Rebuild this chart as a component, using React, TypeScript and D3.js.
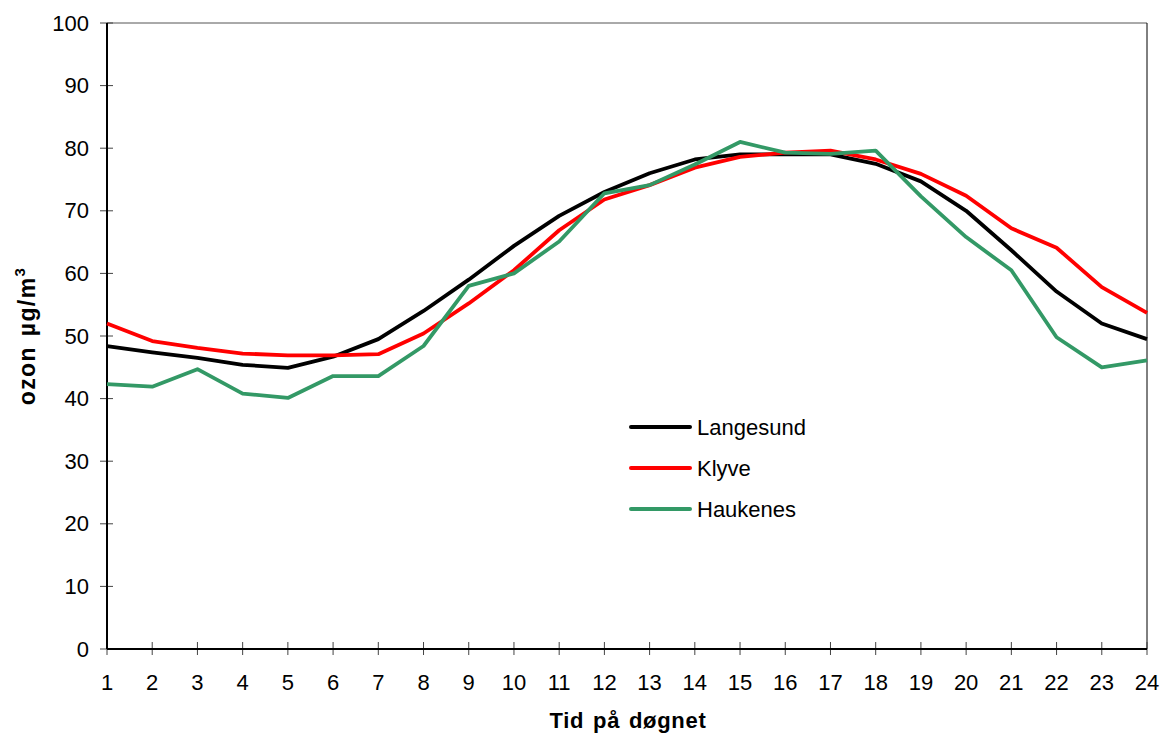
import React from "react";
import * as d3 from "d3";

const hours = [1,2,3,4,5,6,7,8,9,10,11,12,13,14,15,16,17,18,19,20,21,22,23,24];
const langesund = [48.4,47.4,46.5,45.4,44.9,46.7,49.5,54.0,59.0,64.4,69.2,73.0,76.0,78.2,79.0,79.0,79.0,77.5,74.7,70.0,63.7,57.1,52.0,49.5];
const klyve = [52.0,49.2,48.1,47.2,46.9,46.9,47.1,50.4,55.2,60.5,66.9,71.8,74.1,76.9,78.6,79.3,79.6,78.2,75.9,72.4,67.2,64.1,57.8,53.7];
const haukenes = [42.3,41.9,44.7,40.8,40.1,43.6,43.6,48.4,58.0,60.0,65.1,72.8,74.1,77.4,81.0,79.3,79.1,79.6,72.3,65.8,60.5,49.8,45.0,46.1];
const yTicks = [0,10,20,30,40,50,60,70,80,90,100];

const seriesList = [
  { name: "Langesund", values: langesund, color: "#000000" },
  { name: "Klyve", values: klyve, color: "#ff0000" },
  { name: "Haukenes", values: haukenes, color: "#339966" },
];

export default function App() {
  const W = 1165, H = 736;
  const left = 107, right = 1147, top = 23, bottom = 649;
  const x = d3.scaleLinear().domain([1, 24]).range([left, right]);
  const y = d3.scaleLinear().domain([0, 100]).range([bottom, top]);
  const line = d3.line<number>().x((_, i) => x(hours[i])).y((d) => y(d));
  const font = "Arial, 'Liberation Sans', sans-serif";
  return (
    <svg width={W} height={H} style={{ position: "absolute", left: 0, top: 0, background: "#fff" }}>
      <rect x={0} y={0} width={W} height={H} fill="#fff" />
      {/* frame */}
      <line x1={left} x2={right} y1={top} y2={top} stroke="#555" strokeWidth={1} />
      <line x1={right} x2={right} y1={top} y2={bottom} stroke="#000" strokeWidth={1} />
      {/* y ticks */}
      {yTicks.map((t) => (
        <g key={"y" + t}>
          <line x1={left - 7} x2={left + 6} y1={y(t)} y2={y(t)} stroke="#444" strokeWidth={1} />
          <text x={89} y={y(t) + 7.5} textAnchor="end" fontFamily={font} fontSize={22} fill="#000">{t}</text>
        </g>
      ))}
      {/* x ticks */}
      {hours.map((h) => (
        <g key={"x" + h}>
          <line x1={x(h)} x2={x(h)} y1={bottom - 7} y2={bottom + 6} stroke="#444" strokeWidth={1} />
          <text x={x(h)} y={690} textAnchor="middle" fontFamily={font} fontSize={22} fill="#000">{h}</text>
        </g>
      ))}
      {/* axes */}
      <line x1={left} x2={left} y1={top} y2={bottom} stroke="#000" strokeWidth={2} />
      <line x1={left} x2={right} y1={bottom} y2={bottom} stroke="#000" strokeWidth={2} />
      {/* series */}
      {seriesList.map((s) => (
        <path key={s.name} d={line(s.values) || ""} fill="none" stroke={s.color} strokeWidth={3.8} strokeLinejoin="round" />
      ))}
      {/* legend */}
      {seriesList.map((s, i) => (
        <g key={"lg" + s.name}>
          <line x1={631} x2={690} y1={427 + i * 41} y2={427 + i * 41} stroke={s.color} strokeWidth={4} strokeLinecap="round" />
          <text x={697} y={435 + i * 41} fontFamily={font} fontSize={22} fill="#000">{s.name}</text>
        </g>
      ))}
      {/* axis titles */}
      <text x={628} y={728} textAnchor="middle" fontFamily={font} fontSize={22} fontWeight="bold" letterSpacing={0.7} wordSpacing={2} fill="#000">Tid på døgnet</text>
      <text transform={`translate(35,336) rotate(-90)`} textAnchor="middle" fontFamily={font} fontSize={23} fontWeight="bold" letterSpacing={1.4} wordSpacing={2} fill="#000">
        ozon µg/m<tspan dy={-10} fontSize={15}>3</tspan>
      </text>
    </svg>
  );
}
